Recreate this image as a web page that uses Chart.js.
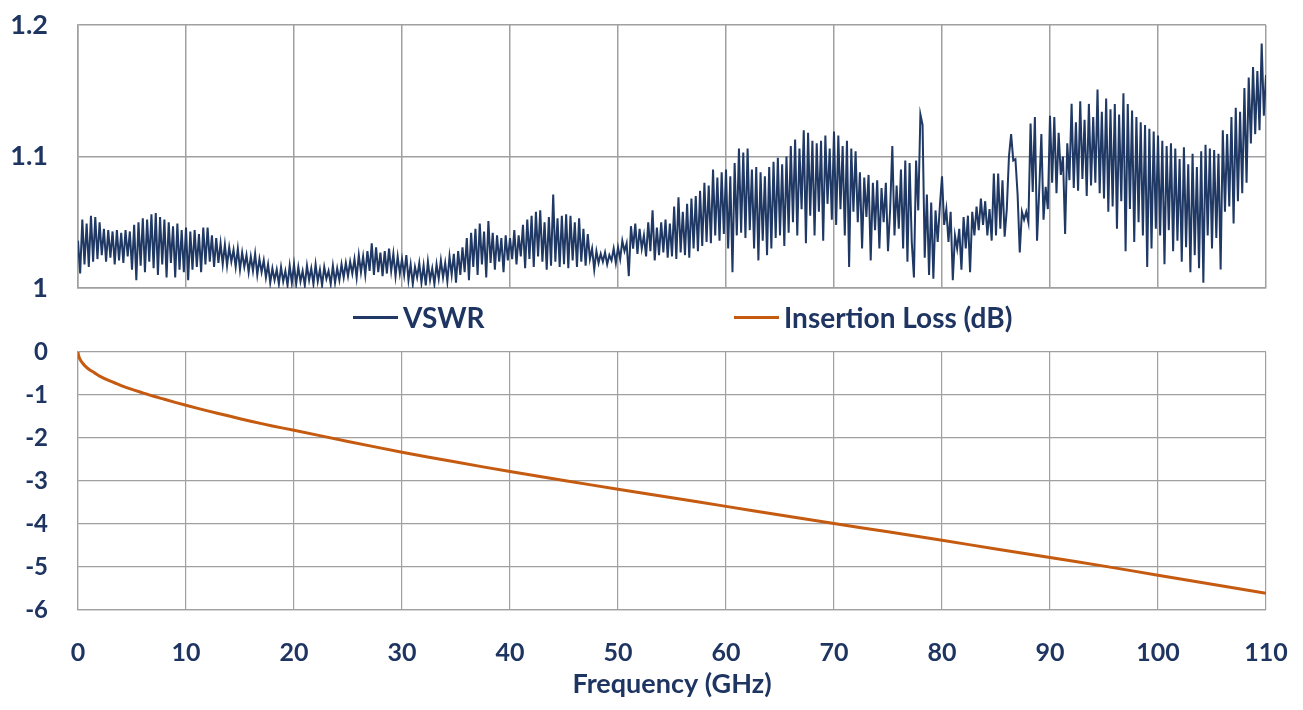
<!DOCTYPE html>
<html>
<head>
<meta charset="utf-8">
<title>VSWR and Insertion Loss</title>
<script src="https://cdn.jsdelivr.net/npm/chart.js@4.4.1/dist/chart.umd.min.js"></script>
<style>
  html, body { margin: 0; padding: 0; background: #fff; }
  #wrap { position: relative; width: 1303px; height: 710px; overflow: hidden; }
  #vswrChart { position: absolute; left: 0; top: 0; }
  #lossChart { position: absolute; left: 0; top: 330px; }
  #legend { position: absolute; left: 0; top: 303px; width: 1303px; height: 28px; }
  .item { position: absolute; top: 0; height: 28px; display: flex; align-items: center;
          font-family: Lato, sans-serif; font-weight: bold; font-size: 28px; line-height: 28px; color: #1f3561; white-space: nowrap; }
  .swatch { display: inline-block; width: 45px; height: 3px; margin-right: 5px; }
</style>
</head>
<body>
<div id="wrap">
  <canvas id="vswrChart" width="1303" height="306"></canvas>
  <div id="legend"></div>
  <canvas id="lossChart" width="1303" height="380"></canvas>
</div>
<script>
// VSWR sweep, one sample every 0.2 GHz from 0 to 110 GHz
const freqStep = 0.2;
const vswr = [
  1.036, 1.011, 1.052, 1.018, 1.049, 1.016, 1.055, 1.020, 1.054, 1.022, 1.050, 1.025, 1.045, 1.020, 1.044, 1.023, 1.043, 1.018, 1.044, 1.021, 1.042, 1.019, 1.044, 1.024, 1.043,
  1.014, 1.048, 1.006, 1.050, 1.017, 1.053, 1.012, 1.052, 1.020, 1.056, 1.015, 1.057, 1.010, 1.054, 1.018, 1.052, 1.008, 1.050, 1.019, 1.047, 1.008, 1.049, 1.014, 1.044, 1.012,
  1.046, 1.006, 1.043, 1.014, 1.044, 1.016, 1.041, 1.012, 1.046, 1.018, 1.046, 1.020, 1.040, 1.016, 1.038, 1.019, 1.034, 1.018, 1.033, 1.017, 1.031, 1.020, 1.029, 1.016, 1.030,
  1.014, 1.027, 1.016, 1.025, 1.012, 1.024, 1.013, 1.026, 1.010, 1.022, 1.012, 1.021, 1.008, 1.018, 1.004, 1.015, 1.006, 1.014, 1.003, 1.016, 1.005, 1.013, 1.002, 1.017, 1.004,
  1.018, 1.003, 1.016, 1.005, 1.013, 1.002, 1.017, 1.006, 1.015, 1.003, 1.018, 1.005, 1.014, 1.002, 1.016, 1.007, 1.013, 1.003, 1.017, 1.004, 1.015, 1.006, 1.018, 1.008, 1.019,
  1.009, 1.020, 1.011, 1.022, 1.008, 1.025, 1.012, 1.024, 1.010, 1.028, 1.013, 1.034, 1.010, 1.031, 1.012, 1.027, 1.009, 1.028, 1.011, 1.030, 1.013, 1.026, 1.009, 1.024, 1.011,
  1.022, 1.010, 1.025, 1.006, 1.018, 1.003, 1.016, 1.008, 1.019, 1.004, 1.017, 1.002, 1.020, 1.006, 1.015, 1.003, 1.018, 1.007, 1.021, 1.008, 1.019, 1.005, 1.024, 1.010, 1.026,
  1.004, 1.028, 1.010, 1.031, 1.012, 1.038, 1.006, 1.042, 1.016, 1.045, 1.010, 1.049, 1.018, 1.043, 1.008, 1.051, 1.019, 1.042, 1.014, 1.040, 1.020, 1.038, 1.012, 1.040, 1.021,
  1.038, 1.022, 1.044, 1.018, 1.040, 1.024, 1.048, 1.015, 1.052, 1.022, 1.055, 1.016, 1.058, 1.024, 1.059, 1.020, 1.050, 1.014, 1.054, 1.017, 1.071, 1.020, 1.053, 1.016, 1.055,
  1.018, 1.056, 1.015, 1.055, 1.021, 1.050, 1.016, 1.053, 1.020, 1.045, 1.017, 1.041, 1.022, 1.030, 1.014, 1.028, 1.019, 1.026, 1.020, 1.027, 1.018, 1.025, 1.021, 1.030, 1.019,
  1.031, 1.022, 1.036, 1.028, 1.034, 1.009, 1.047, 1.030, 1.049, 1.026, 1.045, 1.030, 1.040, 1.024, 1.050, 1.028, 1.059, 1.021, 1.046, 1.025, 1.050, 1.027, 1.052, 1.023, 1.049,
  1.024, 1.062, 1.022, 1.069, 1.027, 1.058, 1.025, 1.064, 1.023, 1.068, 1.030, 1.070, 1.028, 1.074, 1.032, 1.080, 1.035, 1.078, 1.034, 1.090, 1.040, 1.084, 1.036, 1.088, 1.041,
  1.090, 1.030, 1.085, 1.012, 1.095, 1.040, 1.106, 1.042, 1.103, 1.038, 1.106, 1.044, 1.090, 1.030, 1.092, 1.021, 1.088, 1.036, 1.085, 1.025, 1.092, 1.030, 1.096, 1.038, 1.099,
  1.040, 1.094, 1.032, 1.100, 1.042, 1.108, 1.050, 1.113, 1.040, 1.106, 1.060, 1.120, 1.034, 1.118, 1.055, 1.112, 1.040, 1.110, 1.058, 1.112, 1.036, 1.116, 1.064, 1.106, 1.052,
  1.119, 1.048, 1.116, 1.060, 1.108, 1.040, 1.112, 1.016, 1.106, 1.058, 1.104, 1.050, 1.088, 1.030, 1.084, 1.054, 1.086, 1.021, 1.080, 1.044, 1.082, 1.030, 1.076, 1.050, 1.080,
  1.028, 1.060, 1.108, 1.040, 1.078, 1.045, 1.090, 1.030, 1.097, 1.020, 1.095, 1.035, 1.008, 1.097, 1.059, 1.132, 1.124, 1.023, 1.071, 1.010, 1.065, 1.007, 1.059, 1.035, 1.062,
  1.085, 1.048, 1.060, 1.035, 1.058, 1.006, 1.040, 1.030, 1.045, 1.014, 1.054, 1.030, 1.055, 1.012, 1.058, 1.040, 1.062, 1.044, 1.068, 1.048, 1.066, 1.040, 1.060, 1.036, 1.087,
  1.040, 1.087, 1.045, 1.082, 1.039, 1.060, 1.100, 1.117, 1.097, 1.098, 1.071, 1.027, 1.058, 1.052, 1.058, 1.050, 1.125, 1.073, 1.130, 1.036, 1.074, 1.117, 1.052, 1.077, 1.060,
  1.131, 1.080, 1.130, 1.072, 1.118, 1.086, 1.100, 1.041, 1.110, 1.082, 1.140, 1.076, 1.126, 1.074, 1.142, 1.083, 1.128, 1.070, 1.140, 1.078, 1.130, 1.080, 1.151, 1.072, 1.134,
  1.068, 1.144, 1.058, 1.136, 1.062, 1.140, 1.045, 1.132, 1.066, 1.148, 1.028, 1.140, 1.060, 1.135, 1.035, 1.130, 1.050, 1.126, 1.040, 1.124, 1.016, 1.121, 1.030, 1.119, 1.045,
  1.116, 1.040, 1.112, 1.018, 1.108, 1.044, 1.110, 1.028, 1.106, 1.036, 1.098, 1.020, 1.107, 1.031, 1.094, 1.012, 1.102, 1.025, 1.092, 1.015, 1.104, 1.004, 1.109, 1.040, 1.106,
  1.030, 1.105, 1.038, 1.102, 1.014, 1.120, 1.058, 1.117, 1.062, 1.130, 1.049, 1.137, 1.066, 1.134, 1.072, 1.152, 1.080, 1.160, 1.110, 1.168, 1.117, 1.165, 1.120, 1.186, 1.131,
  1.162
];

// Insertion loss, read at these frequencies (GHz)
const lossFreq = [0, 0.05, 0.15, 0.3, 0.6, 1, 1.5, 2, 3, 4, 5, 6, 7, 8, 10, 12, 14, 16, 18, 20,
  25, 30, 35, 40, 45, 50, 55, 60, 65, 70, 75, 80, 85, 90, 95, 100, 105, 110];
const lossDb = [0, -0.08, -0.15, -0.22, -0.31, -0.40, -0.48, -0.56, -0.68, -0.78, -0.87, -0.95, -1.03, -1.10, -1.24, -1.37, -1.49, -1.61, -1.72, -1.82,
  -2.08, -2.33, -2.56, -2.78, -2.99, -3.19, -3.39, -3.59, -3.79, -3.99, -4.18, -4.38, -4.58, -4.78, -4.98, -5.19, -5.40, -5.61];

const freqTicks = [0, 10, 20, 30, 40, 50, 60, 70, 80, 90, 100, 110];
const freqTickLabels = ['0', '10', '20', '30', '40', '50', '60', '70', '80', '90', '100', '110'];
const vswrTicks = [1, 1.1, 1.2];
const vswrTickLabels = ['1', '1.1', '1.2'];
const lossTicks = [-6, -5, -4, -3, -2, -1, 0];
const lossTickLabels = ['-6', '-5', '-4', '-3', '-2', '-1', '0'];
const seriesNames = ['VSWR', 'Insertion Loss (dB)'];

const navy = '#1f3864';
const orange = '#c55a11';
const textNavy = '#1f3561';
const gridGray = '#a0a0a0';
const noTick = 'rgba(0,0,0,0)';

Chart.defaults.font.family = 'Lato';
Chart.defaults.font.weight = 'bold';
Chart.defaults.color = textNavy;

function fixedTicks(values) {
    return function(scale) {
        scale.ticks = values.map(v => ({ value: v }));
    };
}

// Top panel: VSWR
new Chart(document.getElementById('vswrChart'), {
    type: 'line',
    data: {
        datasets: [{
            label: seriesNames[0],
            data: vswr.map((v, i) => ({ x: i * freqStep, y: v })),
            borderColor: navy,
            borderWidth: 2,
            pointRadius: 0,
            tension: 0
        }]
    },
    options: {
        responsive: false,
        animation: false,
        layout: { padding: { left: 0, right: 37, top: 25, bottom: 0 } },
        plugins: { legend: { display: false }, tooltip: { enabled: false } },
        scales: {
            x: {
                type: 'linear',
                min: 0,
                max: 110,
                afterBuildTicks: fixedTicks(freqTicks),
                ticks: { display: false },
                grid: { color: gridGray, lineWidth: 1.5, drawTicks: false },
                border: { color: gridGray, width: 1.5 },
                afterFit: function(scale) { scale.height = 18; }
            },
            y: {
                min: 1,
                max: 1.2,
                afterBuildTicks: fixedTicks(vswrTicks),
                ticks: {
                    padding: 0,
                    font: { size: 27, weight: 'bold' },
                    callback: (v, i) => vswrTickLabels[i]
                },
                // invisible tick marks give the gap between labels and plot
                grid: { color: gridGray, lineWidth: 1.5, drawTicks: true, tickLength: 30, tickColor: noTick },
                border: { color: gridGray, width: 1.5 },
                afterFit: function(scale) { scale.width = 78; }
            }
        }
    }
});

// Bottom panel: insertion loss
new Chart(document.getElementById('lossChart'), {
    type: 'line',
    data: {
        datasets: [{
            label: seriesNames[1],
            data: lossFreq.map((f, i) => ({ x: f, y: lossDb[i] })),
            borderColor: orange,
            borderWidth: 3,
            pointRadius: 0,
            tension: 0.3
        }]
    },
    options: {
        responsive: false,
        animation: false,
        layout: { padding: { left: 0, right: 37, top: 22, bottom: 0 } },
        plugins: { legend: { display: false }, tooltip: { enabled: false } },
        scales: {
            x: {
                type: 'linear',
                min: 0,
                max: 110,
                afterBuildTicks: fixedTicks(freqTicks),
                ticks: {
                    padding: 0,
                    maxRotation: 0,
                    font: { size: 25, weight: 'bold' },
                    callback: (v, i) => freqTickLabels[i]
                },
                grid: { color: gridGray, lineWidth: 1.2, drawTicks: true, tickLength: 28, tickColor: noTick },
                border: { color: gridGray, width: 1.2 },
                title: {
                    display: true,
                    text: 'Frequency (GHz)',
                    font: { size: 27, weight: 'bold' },
                    padding: { top: 0, bottom: 10 }
                },
                afterFit: function(scale) { scale.height = 100; }
            },
            y: {
                min: -6,
                max: 0,
                afterBuildTicks: fixedTicks(lossTicks),
                ticks: {
                    padding: 0,
                    font: { size: 24, weight: 'bold' },
                    callback: (v, i) => lossTickLabels[i]
                },
                grid: { color: gridGray, lineWidth: 1.2, drawTicks: true, tickLength: 30, tickColor: noTick },
                border: { color: gridGray, width: 1.2 },
                afterFit: function(scale) { scale.width = 78; }
            }
        }
    }
});

// Shared legend between the two panels
const legendEl = document.getElementById('legend');
const legendColors = [navy, orange];
const legendLeft = [353, 734];
seriesNames.forEach(function(name, i) {
    const item = document.createElement('div');
    item.className = 'item';
    item.style.left = legendLeft[i] + 'px';
    const swatch = document.createElement('span');
    swatch.className = 'swatch';
    swatch.style.background = legendColors[i];
    item.appendChild(swatch);
    item.appendChild(document.createTextNode(name));
    legendEl.appendChild(item);
});
</script>
</body>
</html>
